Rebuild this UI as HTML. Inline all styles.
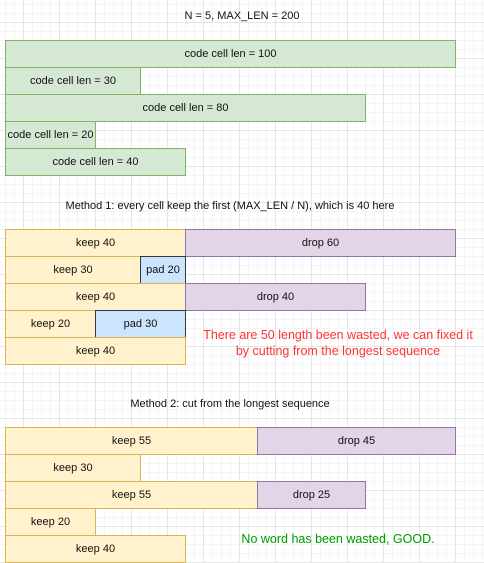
<!DOCTYPE html>
<html><head><style>
html,body{margin:0;padding:0}
body{width:484px;height:562px;position:relative;overflow:hidden;background-color:#fff;
background-image:linear-gradient(#e6e6e6 1px,transparent 1px),linear-gradient(90deg,#e6e6e6 1px,transparent 1px),linear-gradient(#f4f4f4 1px,transparent 1px),linear-gradient(90deg,#f4f4f4 1px,transparent 1px);
background-size:36px 36px,36px 36px,9px 9px,9px 9px;
background-position:0 22px,23px 0,0 4px,5px 0;
font-family:"Liberation Sans",Arial,sans-serif;font-size:11px;color:#111}
.b{position:absolute;box-sizing:border-box;display:flex;align-items:center;justify-content:center;height:28px;border:1px solid}
.g{background:#d5e8d4;border-color:#82b366}
.y{background:#fff2cc;border-color:#d6b656}
.p{background:#e1d5e7;border-color:#9673a6}
.bl{background:#cce5ff;border-color:#36393d}
.t{position:absolute;text-align:center;white-space:nowrap}
</style></head><body>
<div class="t" style="left:0;width:484px;top:10px">N = 5, MAX_LEN = 200</div>
<div class="b g" style="left:5px;top:40px;width:451px">code cell len = 100</div>
<div class="b g" style="left:5px;top:67px;width:136px">code cell len = 30</div>
<div class="b g" style="left:5px;top:94px;width:361px">code cell len = 80</div>
<div class="b g" style="left:5px;top:121px;width:91px">code cell len = 20</div>
<div class="b g" style="left:5px;top:148px;width:181px">code cell len = 40</div>

<div class="t" style="left:0;width:460px;top:200px">Method 1: every cell keep the first (MAX_LEN / N), which is 40 here</div>
<div class="b y" style="left:5px;top:229px;width:181px">keep 40</div>
<div class="b p" style="left:185px;top:229px;width:271px">drop 60</div>
<div class="b y" style="left:5px;top:256px;width:136px">keep 30</div>
<div class="b bl" style="left:140px;top:256px;width:46px">pad 20</div>
<div class="b y" style="left:5px;top:283px;width:181px">keep 40</div>
<div class="b p" style="left:185px;top:283px;width:181px">drop 40</div>
<div class="b y" style="left:5px;top:310px;width:91px">keep 20</div>
<div class="b bl" style="left:95px;top:310px;width:91px">pad 30</div>
<div class="b y" style="left:5px;top:337px;width:181px">keep 40</div>
<div class="t" style="left:196px;width:284px;top:327px;color:#ff3333;font-size:12.5px;line-height:16px">There are 50 length been wasted, we can fixed it<br>by cutting from the longest sequence</div>

<div class="t" style="left:0;width:460px;top:398px">Method 2: cut from the longest sequence</div>
<div class="b y" style="left:5px;top:427px;width:253px">keep 55</div>
<div class="b p" style="left:257px;top:427px;width:199px">drop 45</div>
<div class="b y" style="left:5px;top:454px;width:136px">keep 30</div>
<div class="b y" style="left:5px;top:481px;width:253px">keep 55</div>
<div class="b p" style="left:257px;top:481px;width:109px">drop 25</div>
<div class="b y" style="left:5px;top:508px;width:91px">keep 20</div>
<div class="b y" style="left:5px;top:535px;width:181px">keep 40</div>
<div class="t" style="left:200px;width:276px;top:532px;color:#009900;font-size:12.5px">No word has been wasted, GOOD.</div>
</body></html>
